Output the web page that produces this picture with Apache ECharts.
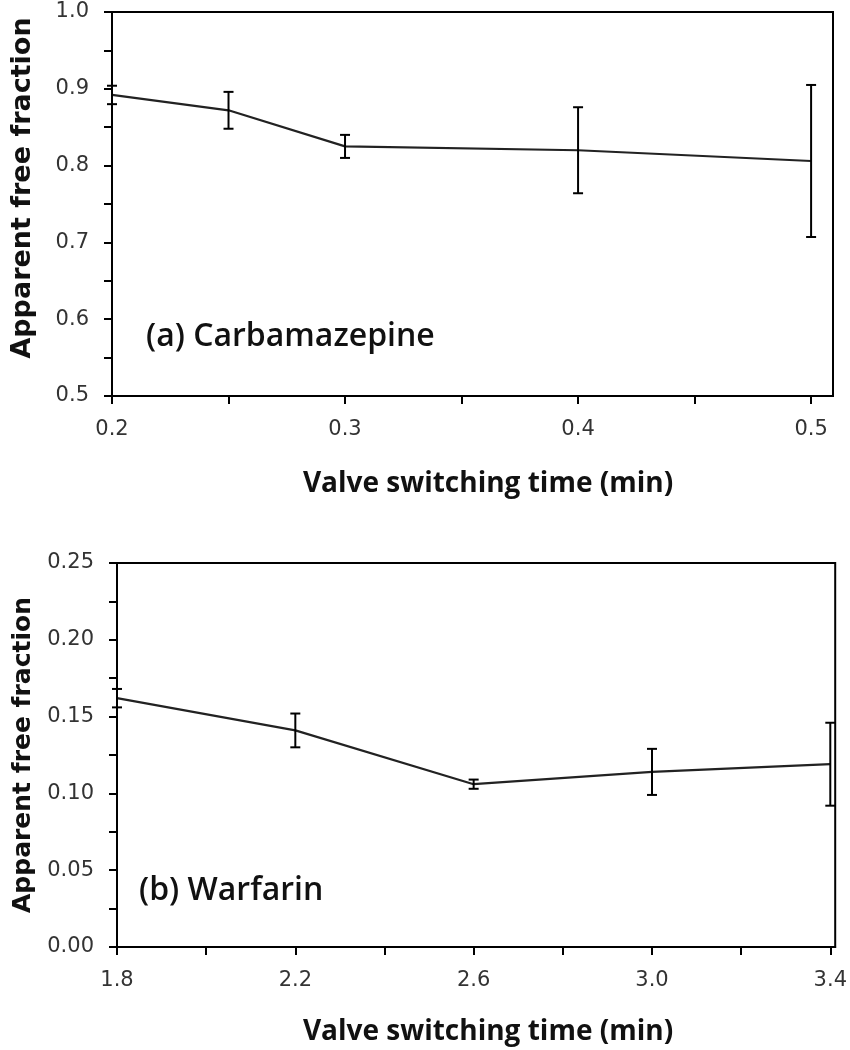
<!DOCTYPE html>
<html>
<head>
<meta charset="utf-8">
<script src="https://cdn.jsdelivr.net/npm/echarts@6/dist/echarts.min.js"></script>
<style>
html,body{margin:0;padding:0;background:#fff;}
#chart{width:850px;height:1050px;}
</style>
</head>
<body>
<div id="chart"></div>
<script>
// ---- Data: panel (a) Carbamazepine ----
const timeA = [0.2, 0.25, 0.3, 0.4, 0.5];
const fracA = [0.892, 0.872, 0.825, 0.820, 0.806];
const errA  = [0.012, 0.024, 0.015, 0.056, 0.099];
const xTicksA  = [0.2, 0.25, 0.3, 0.35, 0.4, 0.45, 0.5];
const xLabelsA = [0.2, 0.3, 0.4, 0.5];
const yTicksA  = [0.5, 0.55, 0.6, 0.65, 0.7, 0.75, 0.8, 0.85, 0.9, 0.95, 1.0];
const yLabelsA = [0.5, 0.6, 0.7, 0.8, 0.9, 1.0];

// ---- Data: panel (b) Warfarin ----
const timeB = [1.8, 2.2, 2.6, 3.0, 3.4];
const fracB = [0.162, 0.141, 0.106, 0.114, 0.119];
const errB  = [0.006, 0.011, 0.003, 0.015, 0.027];
const xTicksB  = [1.8, 2.0, 2.2, 2.4, 2.6, 2.8, 3.0, 3.2, 3.4];
const xLabelsB = [1.8, 2.2, 2.6, 3.0, 3.4];
const yTicksB  = [0, 0.025, 0.05, 0.075, 0.1, 0.125, 0.15, 0.175, 0.2, 0.225, 0.25];
const yLabelsB = [0, 0.05, 0.1, 0.15, 0.2, 0.25];

const yTitle = 'Apparent free fraction';
const xTitle = 'Valve switching time (min)';
const labelA = '(a) Carbamazepine';
const labelB = '(b) Warfarin';

const tickFont = {fontFamily: 'DejaVu Sans', fontSize: 21, color: '#333'};
const axisLine = {show: true, onZero: false, lineStyle: {color: '#000', width: 2}};
const axisTick = {show: true, length: 8, lineStyle: {color: '#000', width: 2}};

function xAxisCfg(gi, min, max, ticks, labels, dec) {
  return {
    type: 'value', gridIndex: gi, min: min, max: max,
    axisLine: axisLine,
    axisTick: Object.assign({customValues: ticks}, axisTick),
    axisLabel: Object.assign({customValues: labels, margin: 23,
      formatter: v => v.toFixed(dec)}, tickFont),
    splitLine: {show: false}
  };
}
function yAxisCfg(gi, min, max, ticks, labels, dec) {
  return {
    type: 'value', gridIndex: gi, min: min, max: max,
    axisLine: axisLine,
    axisTick: Object.assign({customValues: ticks}, axisTick),
    axisLabel: Object.assign({customValues: labels, margin: 23,
      formatter: v => v.toFixed(dec)}, tickFont),
    splitLine: {show: false}
  };
}

function errorSeries(gi, xs, ys, es) {
  return {
    type: 'custom', xAxisIndex: gi, yAxisIndex: gi,
    data: xs.map((x, i) => [x, ys[i] - es[i], ys[i] + es[i]]),
    renderItem: function (params, api) {
      const lo = api.coord([api.value(0), api.value(1)]);
      const hi = api.coord([api.value(0), api.value(2)]);
      const w = 5;
      const st = {stroke: '#000', lineWidth: 2};
      return {
        type: 'group',
        children: [
          {type: 'line', shape: {x1: lo[0], y1: lo[1], x2: hi[0], y2: hi[1]}, style: st},
          {type: 'line', shape: {x1: lo[0] - w, y1: lo[1], x2: lo[0] + w, y2: lo[1]}, style: st},
          {type: 'line', shape: {x1: hi[0] - w, y1: hi[1], x2: hi[0] + w, y2: hi[1]}, style: st}
        ]
      };
    },
    z: 3
  };
}

function lineSeries(gi, xs, ys) {
  return {
    type: 'line', xAxisIndex: gi, yAxisIndex: gi,
    data: xs.map((x, i) => [x, ys[i]]),
    symbol: 'none',
    lineStyle: {color: '#222', width: 2.2},
    z: 2
  };
}

const chart = echarts.init(document.getElementById('chart'), null, {renderer: 'canvas'});
chart.setOption({
  backgroundColor: '#fff',
  animation: false,
  grid: [
    {left: 112, top: 12, width: 721, height: 384, show: true, borderColor: '#000', borderWidth: 2, backgroundColor: 'transparent'},
    {left: 117, top: 563, width: 719, height: 384, show: true, borderColor: '#000', borderWidth: 2, backgroundColor: 'transparent'}
  ],
  xAxis: [
    xAxisCfg(0, 0.2, 0.5094, xTicksA, xLabelsA, 1),
    xAxisCfg(1, 1.8, 3.411, xTicksB, xLabelsB, 1)
  ],
  yAxis: [
    yAxisCfg(0, 0.5, 1.0, yTicksA, yLabelsA, 1),
    yAxisCfg(1, 0, 0.25, yTicksB, yLabelsB, 2)
  ],
  series: [
    lineSeries(0, timeA, fracA),
    errorSeries(0, timeA, fracA, errA),
    lineSeries(1, timeB, fracB),
    errorSeries(1, timeB, fracB, errB)
  ],
  graphic: [
    {type: 'text', left: 146, top: 321, style: {text: labelA, font: '600 32px "Open Sans"', fill: '#111'}},
    {type: 'text', left: 139, top: 875, style: {text: labelB, font: '600 32px "Open Sans"', fill: '#111'}},
    {type: 'text', x: 488, y: 484, style: {text: xTitle, font: 'bold 28px "Open Sans"', fill: '#111', align: 'center', verticalAlign: 'middle'}},
    {type: 'text', x: 488, y: 1032, style: {text: xTitle, font: 'bold 28px "Open Sans"', fill: '#111', align: 'center', verticalAlign: 'middle'}},
    {type: 'text', x: 23, y: 188, rotation: Math.PI / 2, style: {text: yTitle, font: 'bold 27px "DejaVu Sans"', fill: '#111', align: 'center', verticalAlign: 'middle'}},
    {type: 'text', x: 23, y: 755, rotation: Math.PI / 2, style: {text: yTitle, font: 'bold 25px "DejaVu Sans"', fill: '#111', align: 'center', verticalAlign: 'middle'}}
  ]
});
</script>
</body>
</html>
